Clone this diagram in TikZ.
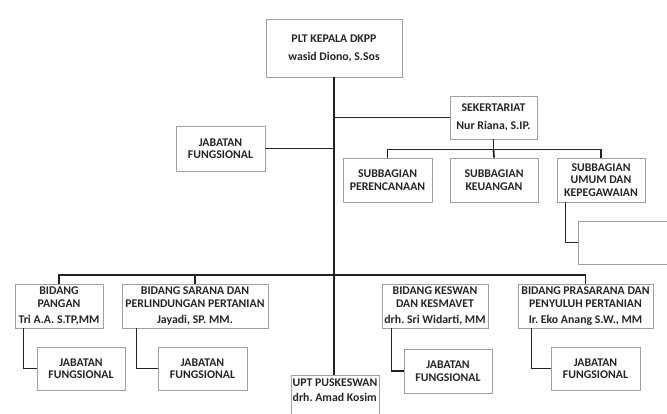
\documentclass[tikz,border=0pt]{standalone}
\usepackage{fontspec}
\setmainfont{Carlito}
\usepackage{tikz}
\usetikzlibrary{positioning,calc}
\usepackage{xcolor}
\frenchspacing

\definecolor{garis}{HTML}{222222}
\definecolor{bingkai}{HTML}{A0A0A0}

\tikzset{
  kotak/.style={draw=bingkai, line width=0.9pt, fill=white, align=center, inner sep=0pt,
    font=\fontsize{11.8}{12.5}\selectfont\bfseries, text=black!85},
  hubung/.style={draw=garis, line width=1.8pt},
}

\begin{document}
\begin{tikzpicture}[x=1pt, y=-1pt]
    \useasboundingbox (0,0) rectangle (667,413);

    % Pimpinan
    \node[kotak, minimum width=136pt, minimum height=58pt, font=\fontsize{11.8}{18}\selectfont\bfseries] (kepala) at (334,48) {PLT KEPALA DKPP\\wasid Diono, S.Sos};
    \node[kotak, minimum width=87pt, minimum height=43pt, font=\fontsize{11.8}{18.5}\selectfont\bfseries] (sekre) at (493.5,117.5) {SEKERTARIAT\\Nur Riana, S.IP.};
    \node[kotak, minimum width=89pt, minimum height=45pt] (jfA) at (220.5,148.5) {JABATAN\\FUNGSIONAL};

    % Subbagian
    \node[kotak, minimum width=89pt, minimum height=44pt] (sbRen) at (387.5,180) {SUBBAGIAN\\PERENCANAAN};
    \node[kotak, minimum width=88pt, minimum height=44pt] (sbKeu) at (494,180) {SUBBAGIAN\\KEUANGAN};
    \node[kotak, minimum width=88pt, minimum height=44pt] (sbUmum) at (601,180) {SUBBAGIAN\\UMUM DAN\\KEPEGAWAIAN};
    \node[kotak, minimum width=112pt, minimum height=43pt] (kosong) at (634,242.5) {};

    % Bidang
    \node[kotak, minimum width=88pt, minimum height=44pt] (pangan) at (59,306) {BIDANG\\PANGAN\\[3.5pt]Tri A.A. S.TP,MM};
    \node[kotak, minimum width=146pt, minimum height=44pt] (sarana) at (195,306) {BIDANG SARANA DAN\\PERLINDUNGAN PERTANIAN\\[3.5pt]Jayadi, SP. MM.};
    \node[kotak, minimum width=106pt, minimum height=44pt] (keswan) at (435,306) {BIDANG KESWAN\\DAN KESMAVET\\[3.5pt]drh. Sri Widarti, MM};
    \node[kotak, minimum width=135pt, minimum height=44pt] (prasarana) at (585.5,306) {BIDANG PRASARANA DAN\\PENYULUH PERTANIAN\\[3.5pt]Ir. Eko Anang S.W., MM};

    % Jabatan fungsional di bawah bidang
    \node[kotak, minimum width=88pt, minimum height=43pt] (jf1) at (81,368.5) {JABATAN\\FUNGSIONAL};
    \node[kotak, minimum width=89pt, minimum height=43pt] (jf2) at (202.5,368.5) {JABATAN\\FUNGSIONAL};
    \node[kotak, minimum width=88pt, minimum height=44pt] (jf3) at (448,371) {JABATAN\\FUNGSIONAL};
    \node[kotak, minimum width=89pt, minimum height=43pt] (jf4) at (595.5,368.5) {JABATAN\\FUNGSIONAL};

    % UPT
    \node[kotak, minimum width=88pt, minimum height=62pt, anchor=north, align=left, font=\fontsize{11.8}{15}\selectfont\bfseries] (upt) at (335,375) {UPT PUSKESWAN\\drh. Amad Kosim\\[2pt] \\ };

    % Garis utama
    \draw[hubung] (kepala.south) -- (kepala.south |- upt.north);
    \draw[hubung] (kepala.south |- sekre.west) -- (sekre.west);
    \draw[hubung] (jfA.east) -- (kepala.south |- jfA.east);

    % Sekertariat ke subbagian
    \coordinate (busSub) at ($(sekre.south)+(0,10)$);
    \draw[hubung] (sekre.south) -- (busSub);
    \draw[hubung] (sbRen.north) |- (busSub) -| (sbUmum.north);
    \draw[hubung] (busSub) -- (sbKeu.north);
    \draw[hubung] ($(sbUmum.south west)+(9,0)$) |- (kosong.west);

    % Garis bidang
    \coordinate (busBid) at (334,275);
    \draw[hubung] (pangan.north) |- (busBid) -| (prasarana.north);
    \draw[hubung] (sarana.north) -- (sarana.north |- busBid);
    \draw[hubung] ($(keswan.north)+(-2,0)$) -- ($(keswan.north)+(-2,0)$ |- busBid);

    % Bidang ke jabatan fungsional
    \draw[hubung] ($(pangan.south west)+(9,0)$) |- (jf1.west);
    \draw[hubung] ($(sarana.south west)+(15,0)$) |- (jf2.west);
    \draw[hubung] ($(keswan.south west)+(10,0)$) |- (jf3.west);
    \draw[hubung] ($(prasarana.south west)+(14,0)$) |- (jf4.west);
\end{tikzpicture}
\end{document}
